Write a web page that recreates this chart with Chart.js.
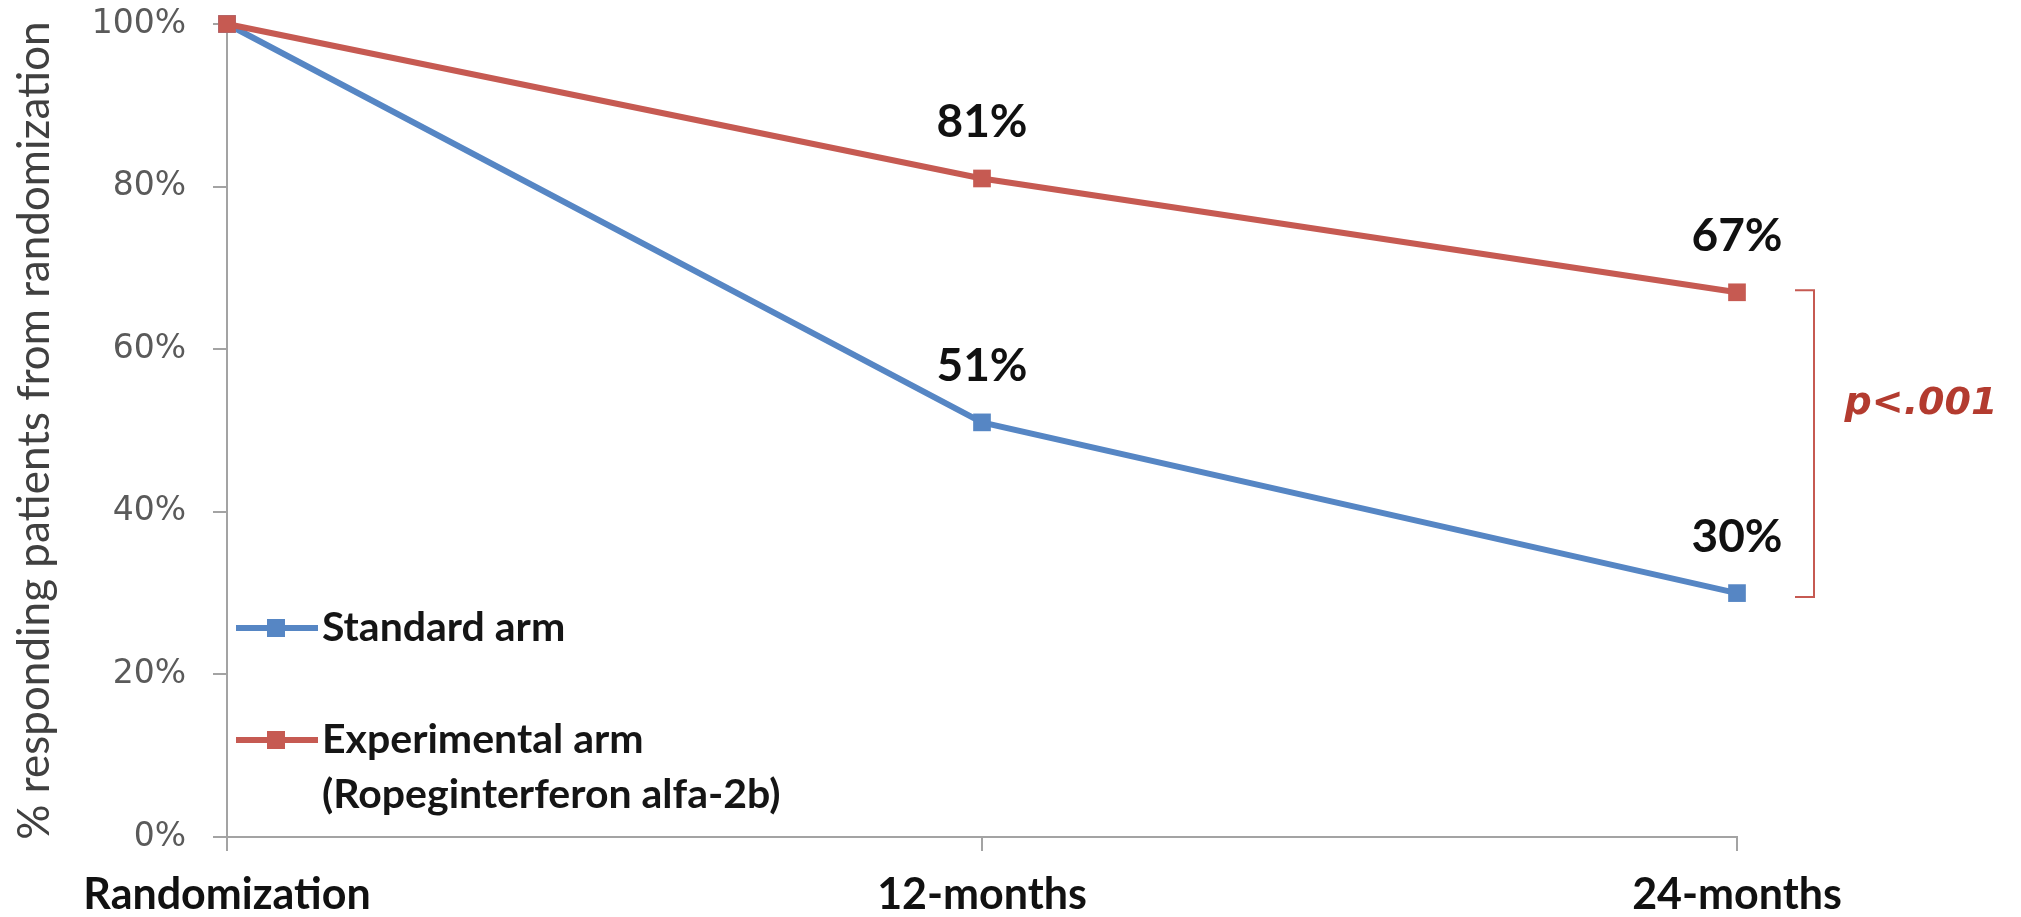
<!DOCTYPE html>
<html>
<head>
<meta charset="utf-8">
<script src="https://cdn.jsdelivr.net/npm/chart.js@4.4.1/dist/chart.umd.min.js"></script>
<style>
  html, body { margin: 0; padding: 0; background: #ffffff; }
  canvas { display: block; }
</style>
</head>
<body>
<canvas id="chart" width="2021" height="917"></canvas>
<script>
// Categories, series values and tick labels
const categories = ['Randomization', '12-months', '24-months'];
const standardArm = [100, 51, 30];
const experimentalArm = [100, 81, 67];
const yTickValues = [0, 20, 40, 60, 80, 100];
const standardName = ['Standard arm'];
const experimentalName = ['Experimental arm', '(Ropeginterferon alfa-2b)'];
const yTitle = '% responding patients from randomization';
const pValueText = 'p<.001';

const BLUE = '#5686c4';
const RED = '#c65a52';
const AXIS = '#a3a3a3';

// Percent labels above each follow-up point
const valueLabels = {
  id: 'valueLabels',
  afterDatasetsDraw(chart) {
    const ctx = chart.ctx;
    ctx.save();
    ctx.font = 'bold 46px Lato';
    ctx.fillStyle = '#111111';
    ctx.textAlign = 'center';
    ctx.textBaseline = 'middle';
    chart.data.datasets.forEach((ds, di) => {
      const meta = chart.getDatasetMeta(di);
      meta.data.forEach((pt, i) => {
        if (i === 0) return;
        ctx.fillText(ds.data[i] + '%', pt.x, pt.y - 56);
      });
    });
    ctx.restore();
  }
};

// Bracket joining the two 24-month values, with the p-value beside it
const significance = {
  id: 'significance',
  afterDraw(chart) {
    const ctx = chart.ctx;
    const ys = chart.scales.y;
    const area = chart.chartArea;
    const last = categories.length - 1;
    const top = ys.getPixelForValue(experimentalArm[last]) - 2;
    const bottom = ys.getPixelForValue(standardArm[last]) + 4;
    const x1 = area.right + 58;
    const x2 = x1 + 19;
    ctx.save();
    ctx.strokeStyle = RED;
    ctx.lineWidth = 2;
    ctx.beginPath();
    ctx.moveTo(x1, top);
    ctx.lineTo(x2, top);
    ctx.lineTo(x2, bottom);
    ctx.lineTo(x1, bottom);
    ctx.stroke();
    ctx.font = 'italic bold 38px "DejaVu Sans"';
    ctx.fillStyle = '#b33b2f';
    ctx.textAlign = 'center';
    ctx.textBaseline = 'middle';
    ctx.fillText(pValueText, area.right + 184, (top + bottom) / 2 - 40);
    ctx.restore();
  }
};

// Legend inside the plot: line sample with a square marker, then the series name
const insideLegend = {
  id: 'insideLegend',
  afterDraw(chart) {
    const ctx = chart.ctx;
    const entries = [
      { ds: chart.data.datasets[1], lines: standardName, y: 628 },
      { ds: chart.data.datasets[0], lines: experimentalName, y: 740 }
    ];
    ctx.save();
    ctx.font = 'bold 41px Lato';
    ctx.textAlign = 'left';
    ctx.textBaseline = 'middle';
    entries.forEach(e => {
      ctx.strokeStyle = e.ds.borderColor;
      ctx.lineWidth = 6;
      ctx.beginPath();
      ctx.moveTo(236, e.y);
      ctx.lineTo(318, e.y);
      ctx.stroke();
      ctx.fillStyle = e.ds.borderColor;
      ctx.fillRect(276 - 9, e.y - 9, 18, 18);
      ctx.fillStyle = '#151515';
      e.lines.forEach((t, k) => ctx.fillText(t, 322, e.y + k * 55));
    });
    ctx.restore();
  }
};

const ctx = document.getElementById('chart').getContext('2d');
new Chart(ctx, {
  type: 'line',
  data: {
    labels: categories,
    datasets: [
      {
        label: experimentalName.join(' '),
        data: experimentalArm,
        borderColor: RED,
        backgroundColor: RED,
        borderWidth: 6,
        pointStyle: 'rect',
        pointRadius: 12.5,
        pointBorderWidth: 0,
        pointBackgroundColor: RED,
        tension: 0,
        clip: false,
        order: 0
      },
      {
        label: standardName.join(' '),
        data: standardArm,
        borderColor: BLUE,
        backgroundColor: BLUE,
        borderWidth: 6,
        pointStyle: 'rect',
        pointRadius: 12.5,
        pointBorderWidth: 0,
        pointBackgroundColor: BLUE,
        tension: 0,
        clip: false,
        order: 1
      }
    ]
  },
  options: {
    responsive: false,
    animation: false,
    devicePixelRatio: 1,
    layout: { autoPadding: false, padding: { left: 0, right: 284, top: 24, bottom: 0 } },
    plugins: {
      legend: { display: false },
      tooltip: { enabled: false }
    },
    scales: {
      x: {
        type: 'category',
        offset: false,
        grid: { drawOnChartArea: false, drawTicks: true, tickLength: 14, color: AXIS, lineWidth: 2 },
        border: { display: true, color: AXIS, width: 2 },
        ticks: {
          font: { family: 'Lato', size: 43, weight: 'bold' },
          color: '#111111',
          padding: 18,
          maxRotation: 0
        },
        afterFit(scale) { scale.height = 80; }
      },
      y: {
        min: 0,
        max: 100,
        afterBuildTicks(scale) { scale.ticks = yTickValues.map(v => ({ value: v })); },
        grid: { drawOnChartArea: false, drawTicks: true, tickLength: 14, color: AXIS, lineWidth: 2 },
        border: { display: true, color: AXIS, width: 2 },
        ticks: {
          font: { family: 'DejaVu Sans', size: 33 },
          color: '#5a5a5a',
          padding: 27,
          callback: v => v + '%'
        },
        title: {
          display: true,
          text: yTitle,
          font: { family: 'Lato', size: 44 },
          color: '#404040',
          padding: { top: 8, bottom: 0 }
        },
        afterFit(scale) {
          scale.width = 227;
          scale.paddingTop = 0;
          scale.paddingBottom = 0;
        }
      }
    }
  },
  plugins: [valueLabels, significance, insideLegend]
});
</script>
</body>
</html>
